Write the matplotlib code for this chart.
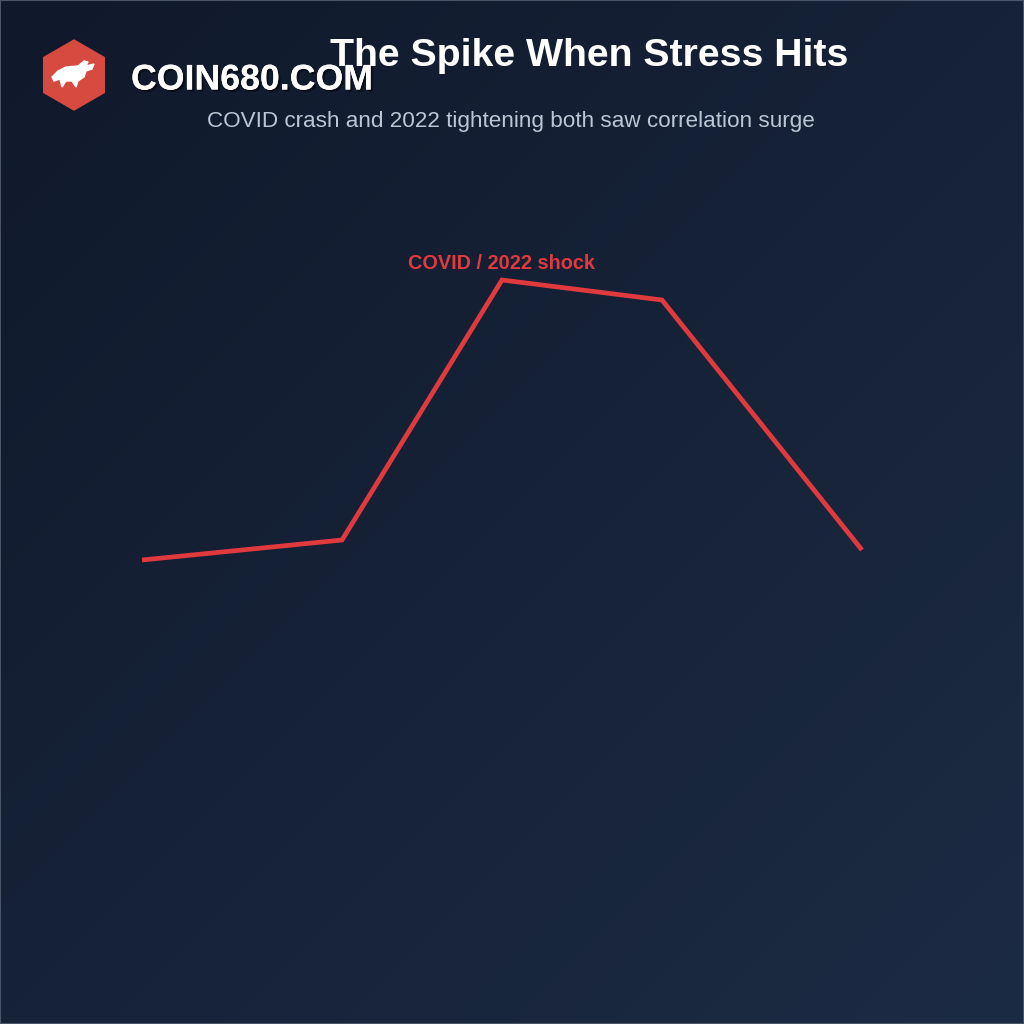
import matplotlib
matplotlib.use("Agg")
from matplotlib import pyplot as plt
from matplotlib.patches import RegularPolygon, Polygon
import matplotlib.patheffects as pe
import numpy as np

# dados (correlacao)
periodos = [0, 2.5, 4.5, 6.5, 9]
correlacao = [0.15, 0.20, 0.85, 0.80, 0.175]

titulo = "The Spike When Stress Hits"
subtitulo = "COVID crash and 2022 tightening both saw correlation surge"
anotacao = "COVID / 2022 shock"

plt.rcParams['font.family'] = ['Liberation Sans', 'DejaVu Sans']

fig = plt.figure(figsize=(10.24, 10.24), dpi=100)

# fundo com gradiente
bg = fig.add_axes([0, 0, 1, 1])
gx, gy = np.meshgrid(np.linspace(0, 1, 256), np.linspace(0, 1, 256))
t = (gx + gy) / 2
c0 = np.array([0x10, 0x19, 0x2b]) / 255
c1 = np.array([0x1c, 0x2b, 0x44]) / 255
grad = c0[None, None, :] * (1 - t[..., None]) + c1[None, None, :] * t[..., None]
bg.imshow(grad, extent=[0, 1, 0, 1], aspect='auto', origin='upper')
bg.set_xlim(0, 1)
bg.set_ylim(0, 1)
bg.axis('off')
bg.add_patch(plt.Rectangle((0, 0), 1, 1, fill=False, ec='#4a5568', lw=1.5,
                           transform=bg.transAxes))

# grafico de linha
ax = fig.add_axes([0, 0, 1, 1])
ax.patch.set_alpha(0)
ax.plot(periodos, correlacao, color='#e0393e', lw=3.4,
        solid_joinstyle='miter', solid_capstyle='butt')
ax.set_xlim(-142 / 80, (1024 - 142) / 80)
ax.set_ylim(-(1024 - 620) / 400, 620 / 400)
ax.axis('off')
ax.annotate(anotacao, (periodos[2], correlacao[2]), xytext=(0, 5),
            textcoords='offset points', ha='center', va='bottom',
            color='#e0393e', fontsize=14.3, fontweight='bold')

# titulo
fig.text(589 / 1024, 1 - 56 / 1024, titulo, ha='center', va='center',
         color='white', fontsize=28.3, fontweight='bold')
fig.text(511 / 1024, 1 - 122 / 1024, subtitulo, ha='center', va='center',
         color='#bcc7d6', fontsize=16.2)

# logo
lx, ly = 74 / 1024, 1 - 75 / 1024
bg.add_patch(RegularPolygon((lx, ly), numVertices=6, radius=35 / 1024,
                            orientation=0, color='#d64a40'))
touro = np.array([[-22, -2], [-16, 4], [-8, 8], [4, 9], [10, 14], [14, 13],
                  [12, 9], [20, 11], [18, 6], [12, 4], [10, -2], [4, -6],
                  [2, -12], [-2, -6], [-8, -6], [-12, -12], [-14, -4],
                  [-20, -6]]) / 1024
bg.add_patch(Polygon(touro + [lx, ly], closed=True, color='white'))
fig.text(131 / 1024, 1 - 80 / 1024, "COIN680.COM", ha='left', va='center',
         color='white', fontsize=25.7, fontweight='bold',
         path_effects=[pe.withSimplePatchShadow(offset=(1.5, -1.5), shadow_rgbFace='black', alpha=0.5),
                       pe.Normal()])

fig.savefig("out.png", dpi=100)
